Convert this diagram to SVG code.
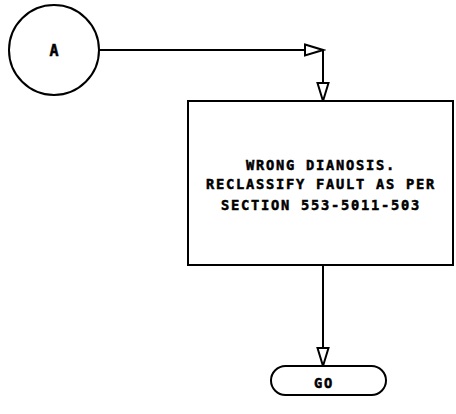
<svg xmlns="http://www.w3.org/2000/svg" width="456" height="414" viewBox="0 0 456 414">
<style>
.s{fill:none;stroke:#000;stroke-width:2}
.n{fill:#fff;stroke:#000;stroke-width:2}
.t{font-family:"DejaVu Sans Mono","Liberation Mono",monospace;font-weight:bold;font-size:13.7px;letter-spacing:1.75px;fill:#000;text-anchor:middle;stroke:#000;stroke-width:0.5}
</style>
<defs>
<marker id="ah" markerUnits="userSpaceOnUse" markerWidth="22" markerHeight="16" refX="19" refY="7" orient="auto" viewBox="0 0 22 14">
<path d="M1,1.5 L19,7 L1,12.5 Z" fill="#fff" stroke="#000" stroke-width="2"/>
</marker>
</defs>
<g id="connectors">
<path class="s" d="M99,50 L323,50" marker-end="url(#ah)"/>
<path class="s" d="M323,50 L323,101" marker-end="url(#ah)"/>
<path class="s" d="M323,265 L323,366" marker-end="url(#ah)"/>
</g>
<g id="nodeA">
<circle class="n" cx="54" cy="50" r="45"/>
<text class="t" x="54" y="56" style="letter-spacing:0;font-size:15px">A</text>
</g>
<g id="nodeProcess">
<rect class="n" x="188" y="101" width="265" height="164"/>
<text class="t" x="321" y="170">WRONG DIANOSIS.</text>
<text class="t" x="321" y="189">RECLASSIFY FAULT AS PER</text>
<text class="t" x="321" y="210">SECTION 553-5011-503</text>
</g>
<g id="nodeGo">
<rect class="n" x="271" y="366" width="115" height="29" rx="14.5"/>
<text class="t" x="324" y="388">GO</text>
</g>
</svg>
